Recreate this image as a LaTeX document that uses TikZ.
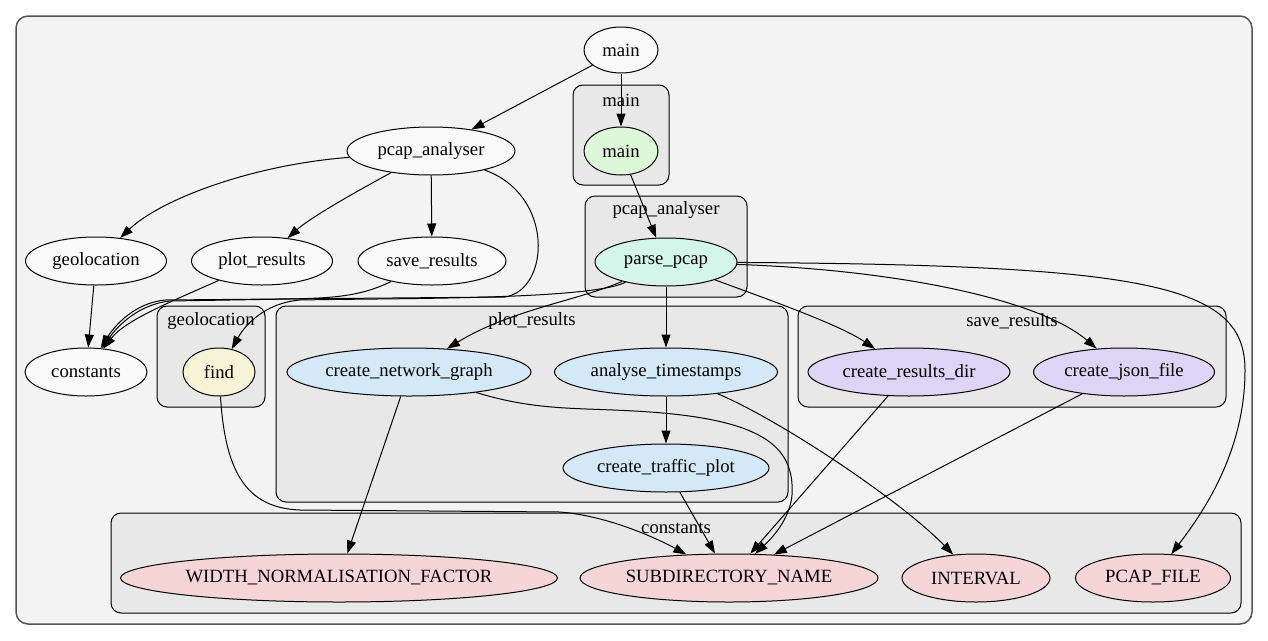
\documentclass[tikz,border=0pt]{standalone}
\usepackage{fontspec}
\setmainfont{Liberation Serif}
\usetikzlibrary{arrows.meta,shapes.geometric}

\definecolor{outerfill}{HTML}{F3F3F3}
\definecolor{outerline}{HTML}{555555}
\definecolor{grpfill}{HTML}{E8E8E8}
\definecolor{plainfill}{HTML}{FAFAFA}
\definecolor{mainfill}{HTML}{DDF8D8}
\definecolor{parsefill}{HTML}{D4F5E9}
\definecolor{findfill}{HTML}{F8F2D6}
\definecolor{plotfill}{HTML}{D4E9F7}
\definecolor{savefill}{HTML}{DDD5F5}
\definecolor{cstfill}{HTML}{F5D5D5}

\begin{document}
\begin{tikzpicture}[x=1pt,y=-1pt,>={Triangle[length=13pt,width=9pt]},
    every node/.style={font=\rmfamily\fontsize{18.7}{22}\selectfont},
    fn/.style={draw,ellipse,line width=1pt,inner sep=0pt,minimum height=48pt,fill=plainfill},
    grp/.style={draw,rounded corners=10pt,line width=1pt,fill=grpfill},
    link/.style={->,line width=1pt}]
    \useasboundingbox (0,0) rectangle (1268,640);
    \draw[outerline,line width=1.5pt,fill=outerfill,rounded corners=12pt] (16,16) rectangle (1252,624);

    \draw[grp] (573,85) rectangle (669,185);
    \draw[grp] (585,196) rectangle (747,297);
    \draw[grp] (157,306) rectangle (265,407);
    \draw[grp] (276,306) rectangle (788,502);
    \draw[grp] (798,306) rectangle (1226,407);
    \draw[grp] (111,513) rectangle (1241,613);
    \node at (621,100) {main};
    \node at (666,210) {pcap\_analyser};
    \node at (211,321) {geolocation};
    \node at (532,321) {plot\_results};
    \node at (1012,321) {save\_results};
    \node at (676,528) {constants};

    \node[fn,minimum width=74pt,minimum height=46pt] (mt) at (621,50) {main};
    \node[fn,minimum width=168pt] (pa) at (431,151) {pcap\_analyser};
    \node[fn,minimum width=141pt] (geo) at (96,261) {geolocation};
    \node[fn,minimum width=141pt] (pr) at (262,261) {plot\_results};
    \node[fn,minimum width=148pt] (sr) at (432,261) {save\_results};
    \node[fn,minimum width=122pt] (cst) at (86,372) {constants};
    \node[fn,minimum width=74pt,fill=mainfill] (mi) at (621,151) {main};
    \node[fn,minimum width=142pt,fill=parsefill] (pp) at (666,262) {parse\_pcap};
    \node[fn,minimum width=72pt,fill=findfill] (find) at (219,372) {find};
    \node[fn,minimum width=244pt,fill=plotfill] (cng) at (409,372) {create\_network\_graph};
    \node[fn,minimum width=223pt,fill=plotfill] (at) at (666,372) {analyse\_timestamps};
    \node[fn,minimum width=206pt,fill=plotfill] (ctp) at (666,468) {create\_traffic\_plot};
    \node[fn,minimum width=202pt,fill=savefill] (crd) at (909,372) {create\_results\_dir};
    \node[fn,minimum width=181pt,fill=savefill] (cjf) at (1124,372) {create\_json\_file};
    \node[fn,minimum width=437pt,fill=cstfill] (wnf) at (339,578) {WIDTH\_NORMALISATION\_FACTOR};
    \node[fn,minimum width=298pt,fill=cstfill] (sdn) at (729,578) {SUBDIRECTORY\_NAME};
    \node[fn,minimum width=148pt,fill=cstfill] (intv) at (976,578) {INTERVAL};
    \node[fn,minimum width=155pt,fill=cstfill] (pf) at (1153,578) {PCAP\_FILE};

    \draw[link] (mt)--(pa);
    \draw[link] (mt)--(mi);
    \draw[link] (mi)--(pp);
    \draw[link] (pa) .. controls (250,165) and (160,200) .. (geo);
    \draw[link] (pa) .. controls (350,195) and (310,218) .. (pr);
    \draw[link] (pa)--(sr);
    \draw[link] (pa) .. controls (555,195) and (550,290) .. (505,297) -- (165,300) .. controls (135,303) and (115,325) .. (cst);
    \draw[link] (geo)--(cst);
    \draw[link] (pr) .. controls (175,300) and (125,320) .. (cst);
    \draw[link] (sr) .. controls (360,297) and (330,298) .. (290,299) -- (170,301) .. controls (140,304) and (118,325) .. (cst);
    \draw[link] (pp) .. controls (590,300) and (400,298) .. (300,300) .. controls (265,303) and (245,325) .. (find);
    \draw[link] (pp) .. controls (580,300) and (510,310) .. (cng);
    \draw[link] (pp)--(at);
    \draw[link] (pp) .. controls (770,300) and (840,325) .. (crd);
    \draw[link] (pp) .. controls (900,270) and (1040,300) .. (cjf);
    \draw[link] (pp) .. controls (1150,265) and (1245,285) .. (1245,370) .. controls (1245,450) and (1205,510) .. (pf);
    \draw[link] (cng)--(wnf);
    \draw[link] (cng) .. controls (540,412) and (580,407) .. (650,412) .. controls (760,420) and (795,445) .. (792,495) .. controls (790,520) and (770,540) .. (sdn);
    \draw[link] (at)--(ctp);
    \draw[link] (ctp)--(sdn);
    \draw[link] (find) .. controls (225,470) and (245,508) .. (300,510) -- (560,512) .. controls (610,516) and (660,540) .. (sdn);
    \draw[link] (at) .. controls (780,420) and (900,500) .. (intv);
    \draw[link] (crd)--(sdn);
    \draw[link] (cjf)--(sdn);
\end{tikzpicture}
\end{document}
